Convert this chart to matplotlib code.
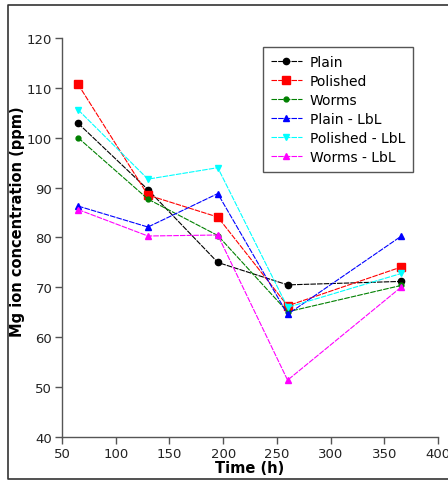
import matplotlib.pyplot as plt
from matplotlib.lines import Line2D

# data
time_h = [65, 130, 195, 260, 366]
plain = [102.9, 89.6, 75.0, 70.5, 71.2]
polished = [110.7, 88.5, 84.1, 66.3, 74.1]
worms = [100.0, 87.7, 80.4, 65.1, 70.4]
plain_lbl = [86.3, 82.1, 88.8, 64.6, 80.3]
polished_lbl = [105.6, 91.7, 94.0, 66.0, 72.8]
worms_lbl = [85.6, 80.3, 80.5, 51.4, 70.1]

names = ['Plain', 'Polished', 'Worms', 'Plain - LbL', 'Polished - LbL', 'Worms - LbL']
series = [plain, polished, worms, plain_lbl, polished_lbl, worms_lbl]
colors = ['black', 'red', 'green', 'blue', 'cyan', 'magenta']
markers = ['o', 's', 'o', '^', 'v', '^']
msizes = [4.5, 5.5, 3.5, 4.5, 4.5, 4.5]

plt.rcParams['font.family'] = 'DejaVu Sans'

fig = plt.figure(figsize=(4.48, 4.81), dpi=100)
ax = fig.add_axes([62/448, 1 - 438/481, 376/448, 399/481])

for y, n, c, m, s in zip(series, names, colors, markers, msizes):
    ax.plot(time_h, y, color=c, marker=m, markersize=s, linestyle=(0, (5, 1)),
            linewidth=0.8, label=n)

ax.set_xlim(50, 400)
ax.set_ylim(40, 120)
ax.set_xticks(range(50, 401, 50))
ax.set_yticks(range(40, 121, 10))
for side in ['top', 'right']:
    ax.spines[side].set_visible(False)
for side in ['left', 'bottom']:
    ax.spines[side].set_color('#555555')
    ax.spines[side].set_linewidth(1.0)
ax.tick_params(colors='#555555', labelcolor='#222222', labelsize=9.5, length=5, width=1, pad=2)

ax.set_xlabel('Time (h)', fontweight='bold', fontsize=10.5, labelpad=0)
ax.set_ylabel('Mg ion concentration (ppm)', fontweight='bold', fontsize=10.5)
ax.yaxis.set_label_coords(-(62 - 25) / 376, (438 - 222) / 399)

leg = ax.legend(loc='upper right', bbox_to_anchor=(413/448, 1 - 48/481),
                bbox_transform=fig.transFigure, borderaxespad=0, fancybox=False,
                framealpha=1, edgecolor='#555555', fontsize=10, handlelength=2.2,
                handletextpad=0.6, borderpad=0.55, labelspacing=0.37)
leg.get_frame().set_linewidth(1.0)

# outer frame of the picture
fig.add_artist(Line2D([448/448, 8/448, 8/448, 448/448],
                      [1 - 6/481, 1 - 6/481, 1 - 480/481, 1 - 480/481],
                      transform=fig.transFigure, color='#333333', linewidth=1.2))

plt.savefig('out.png', dpi=100)
